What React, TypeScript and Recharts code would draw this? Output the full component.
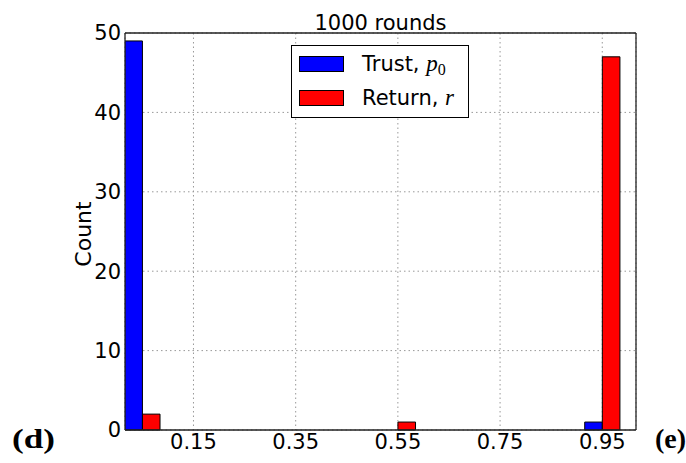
import React from 'react';
import { BarChart, Bar, XAxis, YAxis, CartesianGrid, Legend } from 'recharts';

const binCenters = [0.05, 0.15, 0.25, 0.35, 0.45, 0.55, 0.65, 0.75, 0.85, 0.95];
const trustCounts = [49, 0, 0, 0, 0, 0, 0, 0, 0, 1];
const returnCounts = [2, 0, 0, 0, 0, 1, 0, 0, 0, 47];
const xTicks = [0.15, 0.35, 0.55, 0.75, 0.95];
const yTicks = [0, 10, 20, 30, 40, 50];
const xDomain = [0.016, 1.016];
const yDomain = [0, 50];
const title = '1000 rounds';
const yLabel = 'Count';
const panelLeft = '(d)';
const panelRight = '(e)';

const data = binCenters.map((c, i) => ({ bin: c, trust: trustCounts[i], ret: returnCounts[i] }));

const FONT = '"DejaVu Sans", sans-serif';
const SPINE = '#222';

const renderLegend = () => (
  <svg width={178} height={73} style={{ display: 'block' }}>
    <rect x={0.5} y={0.5} width={177} height={72} fill="#fff" stroke="#000" strokeWidth={1} />
    <rect x={8.5} y={11.5} width={44} height={15} fill="#0000ff" stroke="#000" strokeWidth={1} />
    <rect x={8.5} y={45.5} width={44} height={15} fill="#ff0000" stroke="#000" strokeWidth={1} />
    <text x={71} y={26} fontFamily={FONT} fontSize={21} fill="#000">
      Trust,{' '}
      <tspan fontFamily='"Liberation Serif", serif' fontStyle="italic" fontSize={23}>p</tspan>
      <tspan fontFamily='"Liberation Serif", serif' fontSize={16} dy={4}>0</tspan>
    </text>
    <text x={71} y={60} fontFamily={FONT} fontSize={21} fill="#000">
      Return,{' '}
      <tspan fontFamily='"Liberation Serif", serif' fontStyle="italic" fontSize={23}>r</tspan>
    </text>
  </svg>
);

export default function App() {
  return (
    <div style={{ position: 'absolute', left: 0, top: 0, width: 686, height: 463, background: '#fff' }}>
      <BarChart
        width={686}
        height={463}
        data={data}
        margin={{ top: 33, right: 50, bottom: 0, left: 0 }}
        barGap={0}
        style={{ fontFamily: FONT }}
      >
        <CartesianGrid
          xAxisId="b"
          yAxisId="l"
          stroke="#999"
          strokeDasharray="1.5 3"
          vertical
          horizontal
        />
        <XAxis
          xAxisId="b2"
          dataKey="bin"
          type="number"
          domain={xDomain}
          ticks={xTicks}
          allowDataOverflow
          height={1}
          mirror
          tick={false}
          tickSize={5}
          tickLine={{ stroke: SPINE }}
          axisLine={{ stroke: SPINE, strokeWidth: 1.3 }}
        />
        <XAxis
          xAxisId="b"
          dataKey="bin"
          type="number"
          domain={xDomain}
          ticks={xTicks}
          allowDataOverflow
          height={33}
          tickSize={0}
          tickMargin={4}
          tickLine={false}
          axisLine={false}
          tick={{ fill: '#000', fontSize: 21, fontFamily: FONT }}
          tickFormatter={(v: number) => v.toFixed(2)}
        />
        <XAxis
          xAxisId="t"
          orientation="top"
          dataKey="bin"
          type="number"
          domain={xDomain}
          ticks={xTicks}
          allowDataOverflow
          height={1}
          mirror
          tick={false}
          tickSize={5}
          tickLine={{ stroke: SPINE }}
          axisLine={{ stroke: SPINE, strokeWidth: 1.3 }}
        />
        <YAxis
          yAxisId="l2"
          type="number"
          domain={yDomain}
          ticks={yTicks}
          width={1}
          mirror
          tick={false}
          tickSize={5}
          tickLine={{ stroke: SPINE }}
          axisLine={{ stroke: SPINE, strokeWidth: 1.3 }}
        />
        <YAxis
          yAxisId="l"
          type="number"
          domain={yDomain}
          ticks={yTicks}
          width={125}
          tickSize={0}
          tickMargin={4}
          tickLine={false}
          axisLine={false}
          tick={{ fill: '#000', fontSize: 21, fontFamily: FONT }}
        />
        <YAxis
          yAxisId="r"
          orientation="right"
          type="number"
          domain={yDomain}
          ticks={yTicks}
          width={1}
          mirror
          tick={false}
          tickSize={5}
          tickLine={{ stroke: SPINE }}
          axisLine={{ stroke: SPINE, strokeWidth: 1.3 }}
        />
        <Legend
          content={renderLegend}
          layout="horizontal"
          verticalAlign="middle"
          align="center"
          wrapperStyle={{ position: 'absolute', left: 291, top: 45, width: 178, height: 73 }}
        />
        <Bar
          dataKey="trust"
          name="Trust"
          xAxisId="b"
          yAxisId="l"
          fill="#0000ff"
          stroke="#000"
          strokeWidth={1}
          barSize={17.6}
          isAnimationActive={false}
        />
        <Bar
          dataKey="ret"
          name="Return"
          xAxisId="b"
          yAxisId="l"
          fill="#ff0000"
          stroke="#000"
          strokeWidth={1}
          barSize={17.6}
          isAnimationActive={false}
        />
      </BarChart>
      <svg
        width={686}
        height={463}
        style={{ position: 'absolute', left: 0, top: 0, pointerEvents: 'none' }}
      >
        <text x={380.5} y={30} textAnchor="middle" fontFamily={FONT} fontSize={21} fill="#000">
          {title}
        </text>
        <text
          x={91}
          y={234}
          transform="rotate(-90 91 234)"
          textAnchor="middle"
          fontFamily={FONT}
          fontSize={22}
          fill="#000"
        >
          {yLabel}
        </text>
        <text x={12} y={448} fontFamily='"Liberation Serif", serif' fontWeight="bold" fontSize={28} textLength={43} lengthAdjust="spacingAndGlyphs" fill="#000">
          {panelLeft}
        </text>
        <text x={655} y={448} fontFamily='"Liberation Serif", serif' fontWeight="bold" fontSize={28} fill="#000">
          {panelRight}
        </text>
      </svg>
    </div>
  );
}
